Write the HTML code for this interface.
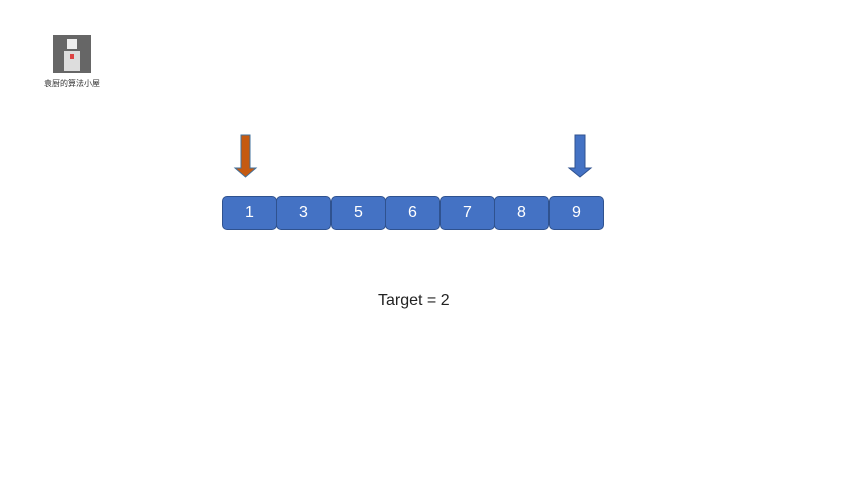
<!DOCTYPE html>
<html><head><meta charset="utf-8"><style>
body{margin:0;width:853px;height:480px;background:#fff;position:relative;overflow:hidden;font-family:"Liberation Sans","Noto Sans CJK SC",sans-serif}
.b{position:absolute;top:196px;height:32px;width:53px;background:#4472c4;border:1px solid #2f528f;border-radius:5px;color:#fff;font-size:16px;line-height:32px;text-align:center}
</style></head><body>
<div style="position:absolute;left:53px;top:35px;width:38px;height:38px;background:#666">
<div style="position:absolute;left:14px;top:4px;width:10px;height:10px;background:#eee"></div>
<div style="position:absolute;left:11px;top:16px;width:16px;height:20px;background:#ddd"></div>
<div style="position:absolute;left:17px;top:19px;width:4px;height:5px;background:#d44"></div>
</div>
<div style="position:absolute;left:44px;top:78px;font-size:8px;color:#333">袁厨的算法小屋</div>
<svg style="position:absolute;left:0;top:0" width="853" height="480">
<polygon points="241,135 250,135 250,168 256,168 245.5,177 235,168 241,168" fill="#c55a11" stroke="#41719c" stroke-width="1"/>
<polygon points="575,135 585,135 585,168 591,168 580,177 569,168 575,168" fill="#4472c4" stroke="#2f528f" stroke-width="1"/>
</svg>
<div class="b" style="left:222px">1</div>
<div class="b" style="left:276px">3</div>
<div class="b" style="left:331px">5</div>
<div class="b" style="left:385px">6</div>
<div class="b" style="left:440px">7</div>
<div class="b" style="left:494px">8</div>
<div class="b" style="left:549px">9</div>
<div style="position:absolute;left:378px;top:292px;font-size:16px;color:#222">Target = 2</div>
</body></html>
